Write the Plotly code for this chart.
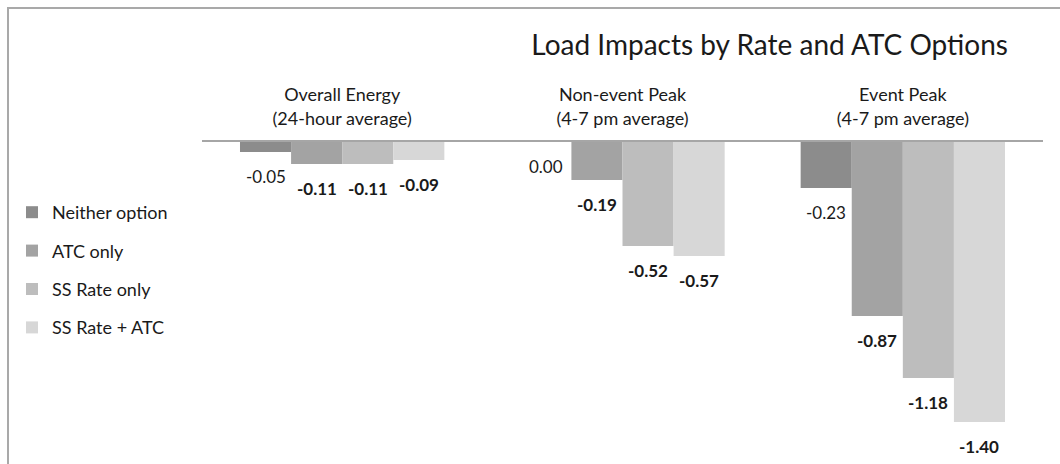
import plotly.graph_objects as go

# Load impact data (kW change) by rate / ATC option
groups = ["Overall Energy<br>(24-hour average)",
          "Non-event Peak<br>(4-7 pm average)",
          "Event Peak<br>(4-7 pm average)"]
series_names = ["Neither option", "ATC only", "SS Rate only", "SS Rate + ATC"]
neither_option = [-0.05, 0.00, -0.23]
atc_only = [-0.11, -0.19, -0.87]
ss_rate_only = [-0.11, -0.52, -1.18]
ss_rate_atc = [-0.09, -0.57, -1.40]

series_values = [neither_option, atc_only, ss_rate_only, ss_rate_atc]
colors = ["#8c8c8c", "#a3a3a3", "#bdbdbd", "#d7d7d7"]
label_bold = [False, True, True, True]

FONT = "Lato"
TEXT = "#1a1a1a"
W, H = 1060, 464
L, R, T, B = 202, 17, 142, 0
BARGAP = 0.271

fig = go.Figure()
for name, vals, col in zip(series_names, series_values, colors):
    fig.add_trace(go.Bar(
        x=list(range(len(groups))), y=vals, name=name,
        marker=dict(color=col, line=dict(width=0)),
        legendgroup=name,
    ))

# value labels under each bar end
n = len(series_names)
w = (1 - BARGAP) / n
annotations = []
for j, vals in enumerate(series_values):
    for i, v in enumerate(vals):
        txt = f"{v:.2f}"
        if label_bold[j]:
            txt = f"<b>{txt}</b>"
        annotations.append(dict(
            x=i - (1 - BARGAP) / 2 + (j + 0.5) * w, y=v,
            xref="x", yref="y", text=txt, showarrow=False,
            yanchor="middle", xanchor="center", yshift=-24,
            font=dict(family=FONT, size=17, color=TEXT),
        ))

plot_w = W - L - R
plot_h = H - T - B


def px_x(p):
    return (p - L) / plot_w


def px_y(p):
    return (H - B - p) / plot_h


border = "#a9a9a9"
shapes = [
    dict(type="line", xref="paper", yref="paper",
         x0=px_x(8), x1=px_x(8), y0=px_y(8), y1=px_y(H + 2),
         line=dict(color=border, width=2)),
    dict(type="line", xref="paper", yref="paper",
         x0=px_x(7), x1=px_x(W + 2), y0=px_y(8), y1=px_y(8),
         line=dict(color=border, width=2)),
]

fig.update_layout(
    width=W, height=H,
    margin=dict(l=L, r=R, t=T, b=B, pad=0),
    paper_bgcolor="white", plot_bgcolor="white",
    barmode="group", bargap=BARGAP, bargroupgap=0,
    title=dict(text="Load Impacts by Rate and ATC Options",
               x=1008 / W, xanchor="right", xref="container",
               y=1 - 45 / H, yanchor="middle", yref="container",
               font=dict(family=FONT, size=28, color=TEXT)),
    xaxis=dict(side="top", tickmode="array",
               tickvals=list(range(len(groups))), ticktext=groups,
               range=[-0.5, len(groups) - 0.5],
               showline=True, linecolor="#a6a6a6", linewidth=2,
               ticks="", showgrid=False, zeroline=False,
               tickfont=dict(family=FONT, size=18, color=TEXT),
               ticklabelstandoff=8),
    yaxis=dict(range=[-(plot_h / 200), 0], visible=False,
               showgrid=False, zeroline=False),
    legend=dict(x=px_x(12), xanchor="left", y=px_y(194), yanchor="top",
                font=dict(family=FONT, size=18, color=TEXT),
                tracegroupgap=12, traceorder="grouped",
                bgcolor="rgba(0,0,0,0)"),
    annotations=annotations,
    shapes=shapes,
    showlegend=True,
)

fig.write_html("out.html")
